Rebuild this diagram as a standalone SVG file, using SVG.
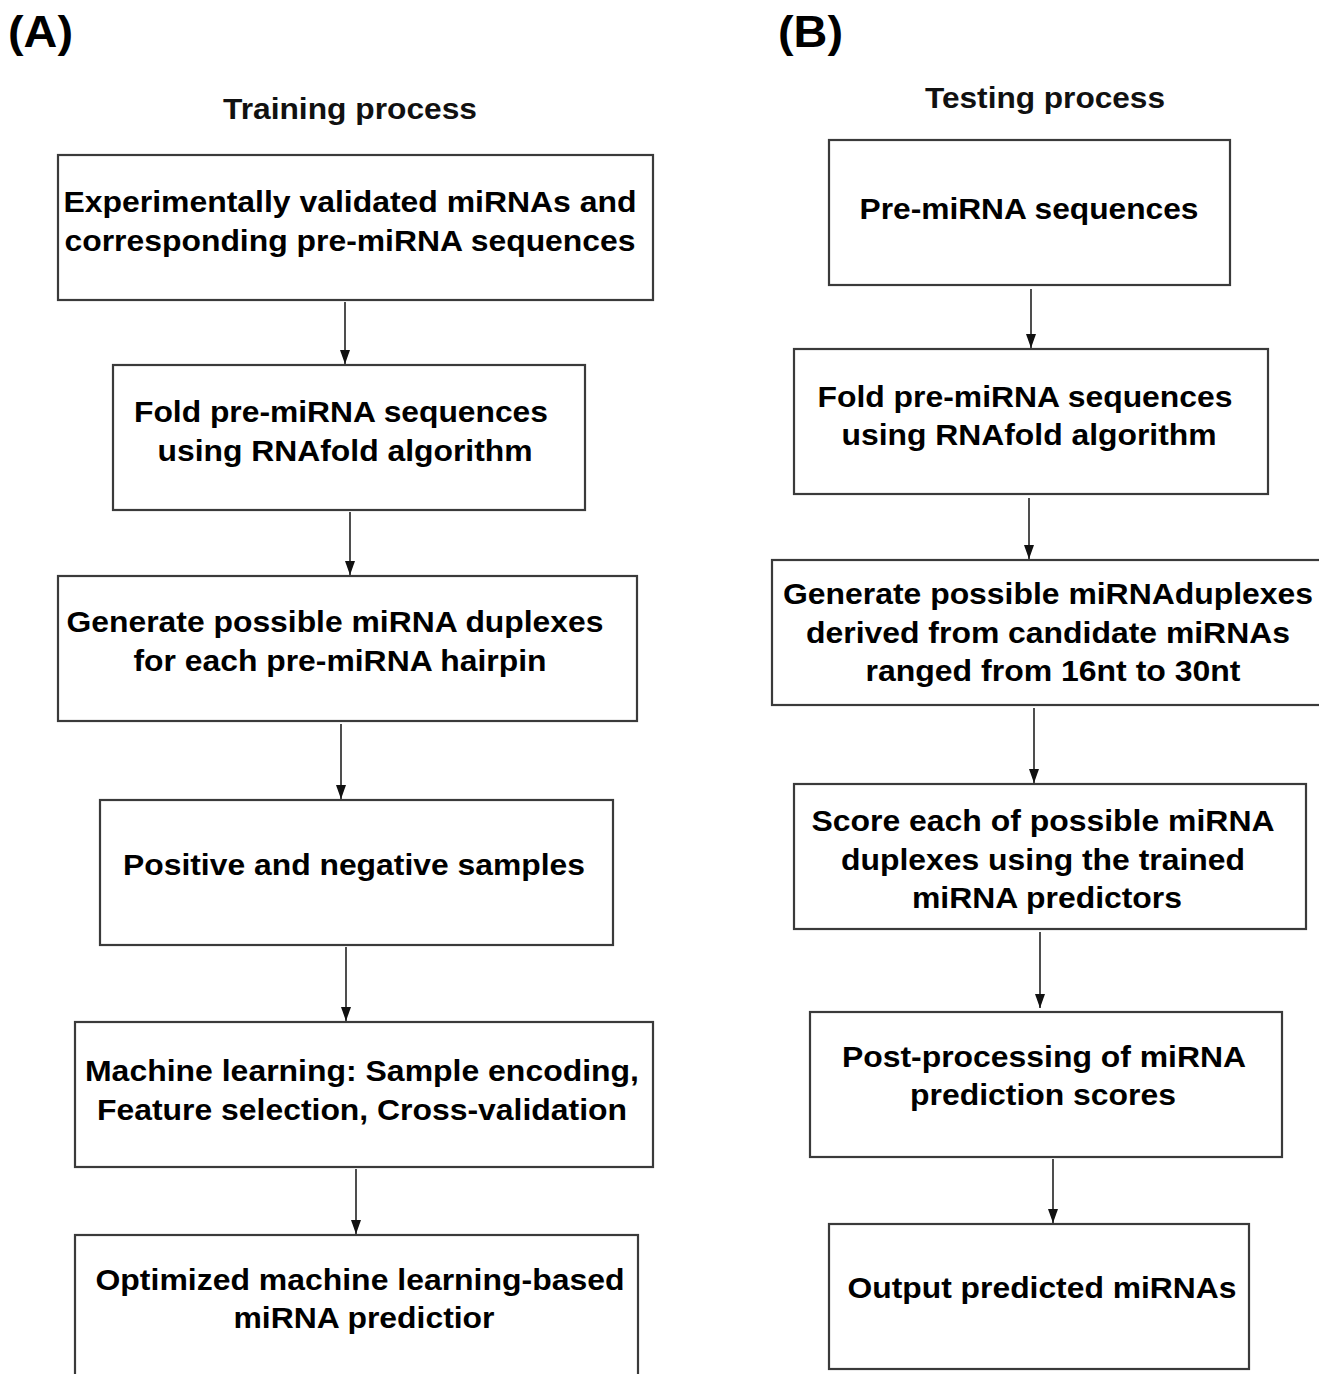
<svg xmlns="http://www.w3.org/2000/svg" width="1319" height="1374" viewBox="0 0 1319 1374">
<style>
.box{fill:#fff;stroke:#3a3a3a;stroke-width:2.2}
.t{font-family:"Liberation Sans",Arial,sans-serif;font-weight:bold;font-size:30px;fill:#000;text-anchor:middle}
.h{font-family:"Liberation Sans",Arial,sans-serif;font-weight:bold;font-size:30px;fill:#111;text-anchor:middle}
.p{font-family:"Liberation Sans",Arial,sans-serif;font-weight:bold;font-size:44px;fill:#000}
.c{stroke:#222;stroke-width:1.6;fill:none;marker-end:url(#ah)}
</style>
<defs>
<marker id="ah" markerUnits="userSpaceOnUse" markerWidth="14" markerHeight="10" refX="14" refY="5" orient="auto" viewBox="0 0 14 10">
<path d="M0,0 L14,5 L0,10 Z" fill="#111"/>
</marker>
</defs>
<rect width="1319" height="1374" fill="#fff"/>
<text class="p" x="8" y="47" textLength="65" lengthAdjust="spacingAndGlyphs">(A)</text>
<text class="p" x="778" y="47" textLength="65" lengthAdjust="spacingAndGlyphs">(B)</text>
<text class="h" x="350" y="119" textLength="254" lengthAdjust="spacingAndGlyphs">Training process</text>
<text class="h" x="1045" y="108" textLength="240" lengthAdjust="spacingAndGlyphs">Testing process</text>
<g id="A1"><rect class="box" x="58" y="155" width="595" height="145"/>
<text class="t" x="350" y="212" textLength="573" lengthAdjust="spacingAndGlyphs">Experimentally validated miRNAs and</text>
<text class="t" x="350" y="251" textLength="571" lengthAdjust="spacingAndGlyphs">corresponding pre-miRNA sequences</text></g>
<g id="A2"><rect class="box" x="113" y="365" width="472" height="145"/>
<text class="t" x="341" y="422" textLength="414" lengthAdjust="spacingAndGlyphs">Fold pre-miRNA sequences</text>
<text class="t" x="345" y="461" textLength="375" lengthAdjust="spacingAndGlyphs">using RNAfold algorithm</text></g>
<g id="A3"><rect class="box" x="58" y="576" width="579" height="145"/>
<text class="t" x="335" y="632" textLength="537" lengthAdjust="spacingAndGlyphs">Generate possible miRNA duplexes</text>
<text class="t" x="340" y="671" textLength="413" lengthAdjust="spacingAndGlyphs">for each pre-miRNA hairpin</text></g>
<g id="A4"><rect class="box" x="100" y="800" width="513" height="145"/>
<text class="t" x="354" y="875" textLength="462" lengthAdjust="spacingAndGlyphs">Positive and negative samples</text></g>
<g id="A5"><rect class="box" x="75" y="1022" width="578" height="145"/>
<text class="t" x="362" y="1081" textLength="554" lengthAdjust="spacingAndGlyphs">Machine learning: Sample encoding,</text>
<text class="t" x="362" y="1120" textLength="530" lengthAdjust="spacingAndGlyphs">Feature selection, Cross-validation</text></g>
<g id="A6"><rect class="box" x="75" y="1235" width="563" height="150"/>
<text class="t" x="360" y="1290" textLength="529" lengthAdjust="spacingAndGlyphs">Optimized machine learning-based</text>
<text class="t" x="364" y="1328" textLength="261" lengthAdjust="spacingAndGlyphs">miRNA predictior</text></g>
<g id="B1"><rect class="box" x="829" y="140" width="401" height="145"/>
<text class="t" x="1029" y="219" textLength="339" lengthAdjust="spacingAndGlyphs">Pre-miRNA sequences</text></g>
<g id="B2"><rect class="box" x="794" y="349" width="474" height="145"/>
<text class="t" x="1025" y="407" textLength="415" lengthAdjust="spacingAndGlyphs">Fold pre-miRNA sequences</text>
<text class="t" x="1029" y="445" textLength="375" lengthAdjust="spacingAndGlyphs">using RNAfold algorithm</text></g>
<g id="B3"><rect class="box" x="772" y="560" width="550" height="145"/>
<text class="t" x="1048" y="604" textLength="530" lengthAdjust="spacingAndGlyphs">Generate possible miRNAduplexes</text>
<text class="t" x="1048" y="643" textLength="484" lengthAdjust="spacingAndGlyphs">derived from candidate miRNAs</text>
<text class="t" x="1053" y="681" textLength="375" lengthAdjust="spacingAndGlyphs">ranged from 16nt to 30nt</text></g>
<g id="B4"><rect class="box" x="794" y="784" width="512" height="145"/>
<text class="t" x="1043" y="831" textLength="463" lengthAdjust="spacingAndGlyphs">Score each of possible miRNA</text>
<text class="t" x="1043" y="870" textLength="404" lengthAdjust="spacingAndGlyphs">duplexes using the trained</text>
<text class="t" x="1047" y="908" textLength="270" lengthAdjust="spacingAndGlyphs">miRNA predictors</text></g>
<g id="B5"><rect class="box" x="810" y="1012" width="472" height="145"/>
<text class="t" x="1044" y="1067" textLength="404" lengthAdjust="spacingAndGlyphs">Post-processing of miRNA</text>
<text class="t" x="1043" y="1105" textLength="266" lengthAdjust="spacingAndGlyphs">prediction scores</text></g>
<g id="B6"><rect class="box" x="829" y="1224" width="420" height="145"/>
<text class="t" x="1042" y="1298" textLength="389" lengthAdjust="spacingAndGlyphs">Output predicted miRNAs</text></g>
<g id="connectors">
<path class="c" d="M345,302 V364"/>
<path class="c" d="M350,512 V575"/>
<path class="c" d="M341,724 V799"/>
<path class="c" d="M346,947 V1021"/>
<path class="c" d="M356,1169 V1234"/>
<path class="c" d="M1031,289 V348"/>
<path class="c" d="M1029,498 V559"/>
<path class="c" d="M1034,708 V783"/>
<path class="c" d="M1040,932 V1008"/>
<path class="c" d="M1053,1159 V1223"/>
</g>
</svg>
